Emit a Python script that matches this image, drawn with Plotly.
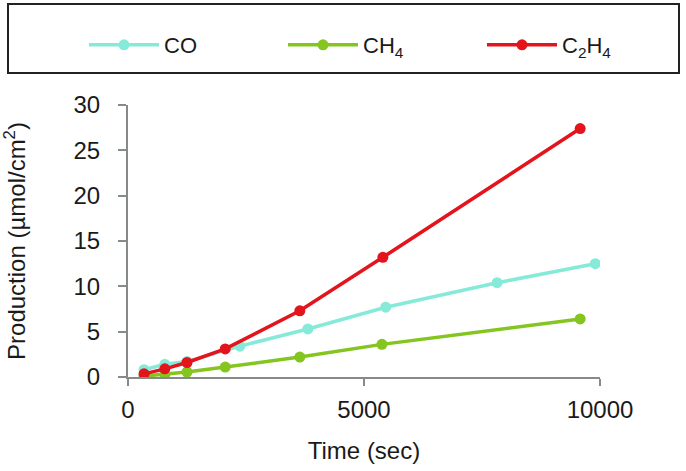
import plotly.graph_objects as go

# Data
co_time = [340, 780, 1250, 2370, 3810, 5460, 7820, 9900]
co_vals = [0.8, 1.4, 1.7, 3.4, 5.3, 7.7, 10.4, 12.5]

ch4_time = [340, 780, 1250, 2060, 3640, 5380, 9580]
ch4_vals = [0.1, 0.3, 0.55, 1.1, 2.2, 3.6, 6.4]

c2h4_time = [340, 780, 1250, 2060, 3640, 5400, 9580]
c2h4_vals = [0.35, 0.9, 1.6, 3.1, 7.3, 13.2, 27.4]

series_names = ["CO", "CH<sub>4</sub>", "C<sub>2</sub>H<sub>4</sub>"]
series_colors = ["#86ead9", "#84c51f", "#e3141c"]

x_ticks = [0, 5000, 10000]
y_ticks = [0, 5, 10, 15, 20, 25, 30]

FONT = "Liberation Sans, Arial, sans-serif"
AXIS_COLOR = "#868a8a"
TXT = "#1a1a1a"

fig = go.Figure()
for t, v, name, col in zip([co_time, ch4_time, c2h4_time],
                           [co_vals, ch4_vals, c2h4_vals],
                           series_names, series_colors):
    fig.add_trace(go.Scatter(
        x=t, y=v, name=name, mode="lines+markers",
        line=dict(color=col, width=3.5),
        marker=dict(color=col, size=11),
    ))

W, H = 686, 471
L, R, T, B = 128, 86, 105, 94
pw, ph = W - L - R, H - T - B

def px2paper_x(px):
    return (px - L) / pw

def px2paper_y(py):
    return (H - B - py) / ph

fig.update_layout(
    width=W, height=H,
    margin=dict(l=L, r=R, t=T, b=B, autoexpand=False),
    paper_bgcolor="white", plot_bgcolor="white",
    font=dict(family=FONT, size=24, color=TXT),
    showlegend=True,
    legend=dict(
        orientation="h",
        x=px2paper_x(84), xanchor="left",
        y=px2paper_y(45), yanchor="middle",
        entrywidth=114, entrywidthmode="pixels",
        itemwidth=70,
        font=dict(family=FONT, size=22, color=TXT),
        bgcolor="rgba(0,0,0,0)",
        traceorder="normal",
    ),
    xaxis=dict(
        range=[0, 10000], tickvals=x_ticks, ticktext=["0", "5000", "10000"],
        showgrid=False, zeroline=False,
        showline=True, linecolor=AXIS_COLOR, linewidth=2,
        ticks="outside", ticklen=7, tickwidth=2, tickcolor=AXIS_COLOR,
        ticklabelstandoff=3,
        tickfont=dict(size=24),
        title=dict(text="Time (sec)", font=dict(size=24), standoff=20),
    ),
    yaxis=dict(
        range=[0, 30], tickvals=y_ticks,
        showgrid=False, zeroline=False,
        showline=True, linecolor=AXIS_COLOR, linewidth=2,
        ticks="outside", ticklen=8, tickwidth=2, tickcolor=AXIS_COLOR,
        ticklabelstandoff=13,
        tickfont=dict(size=24),
        title=dict(text="Production (µmol/cm<sup>2</sup>)", font=dict(size=24), standoff=42),
    ),
    shapes=[dict(
        type="rect", xref="paper", yref="paper",
        x0=px2paper_x(8), x1=px2paper_x(679),
        y0=px2paper_y(73), y1=px2paper_y(4),
        line=dict(color="#222222", width=2),
        fillcolor="rgba(0,0,0,0)",
    )],
)

fig.write_html("out.html", config={"displayModeBar": False},
               post_script="document.body.style.margin='0';")
